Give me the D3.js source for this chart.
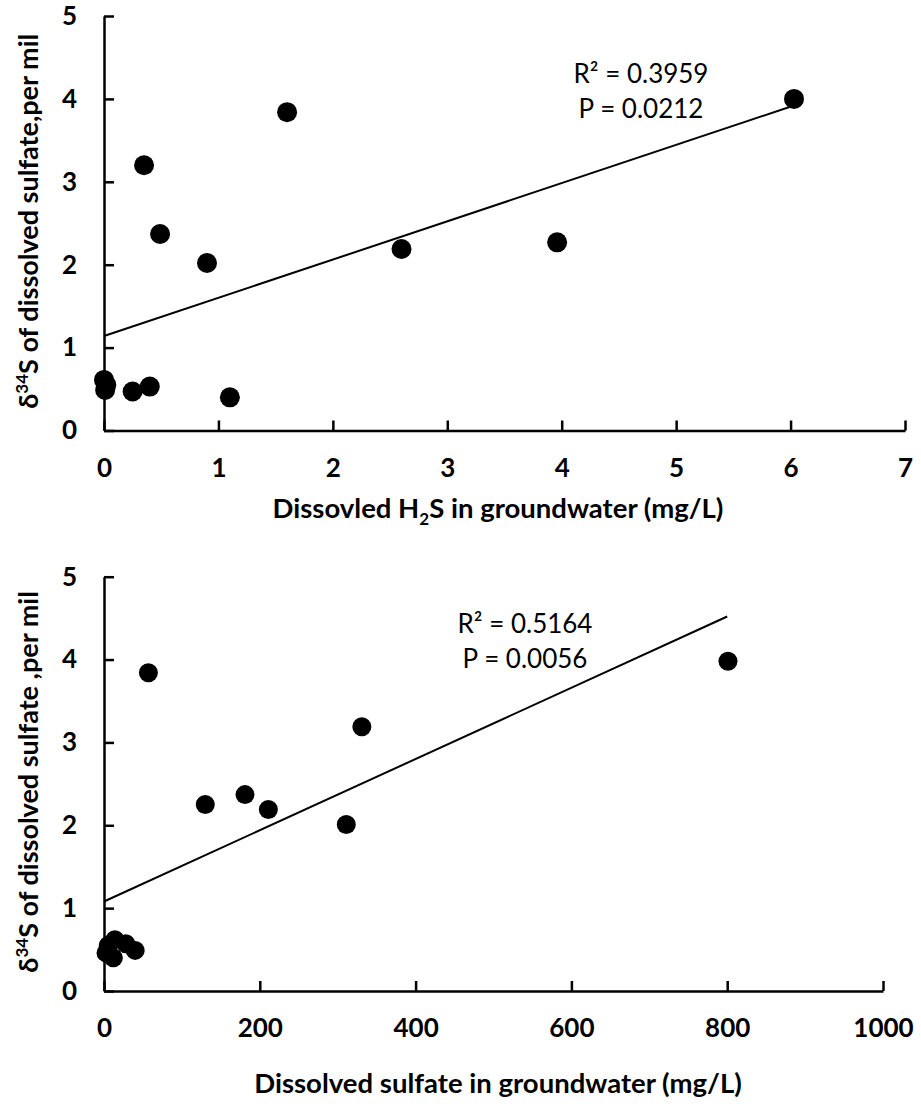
<!DOCTYPE html>
<html>
<head>
<meta charset="utf-8">
<script src="https://cdn.jsdelivr.net/npm/d3@7"></script>
<style>
  body { margin: 0; background: #fff; }
  text { font-family: Lato, "Open Sans", sans-serif; fill: #000; }
  .axis path, .axis line { stroke: #000; stroke-width: 2.5; }
  .axis text { font-size: 26px; font-weight: bold; }
</style>
</head>
<body>
<div id="main"></div>
<script>
// top panel: dissolved H2S vs d34S
var h2sX = [0, 0.02, 0.01, 0.25, 0.40, 1.10, 0.35, 1.60, 0.49, 0.90, 2.60, 3.96, 6.03];
var h2sY = [0.61, 0.55, 0.49, 0.47, 0.53, 0.40, 3.20, 3.84, 2.37, 2.02, 2.19, 2.27, 4.00];
var h2sFit = [[0, 1.14], [6.03, 3.92]];
var h2sTicks = [0, 1, 2, 3, 4, 5, 6, 7];
var h2sStats = ["R\u00B2 = 0.3959", "P = 0.0212"];

// bottom panel: dissolved sulfate vs d34S
var so4X = [57, 331, 130, 181, 211, 311, 801, 2.6, 14, 12, 28, 40, 5.5];
var so4Y = [3.84, 3.19, 2.25, 2.37, 2.19, 2.01, 3.98, 0.46, 0.62, 0.40, 0.57, 0.49, 0.55];
var so4Fit = [[0, 1.08], [800, 4.52]];
var so4Ticks = [0, 200, 400, 600, 800, 1000];
var so4Stats = ["R\u00B2 = 0.5164", "P = 0.0056"];

var yTicks = [0, 1, 2, 3, 4, 5];

var width = 921, height = 1104;

var svg = d3.select("#main").append("svg")
    .attr("width", width)
    .attr("height", height);

function panel(opt) {
  var x = d3.scaleLinear().domain([0, opt.xMax]).range([104, opt.right]);
  var y = d3.scaleLinear().domain([0, 5]).range([opt.bottom, opt.top]);
  var g = svg.append("g");

  g.append("g").attr("class", "axis")
      .attr("transform", "translate(0," + y(0) + ")")
      .call(d3.axisBottom(x).tickValues(opt.ticks).tickFormat(d3.format("d"))
        .tickSizeInner(-10).tickSizeOuter(0).tickPadding(28))
      .selectAll("text").attr("dy", "0.71em");

  g.append("g").attr("class", "axis")
      .attr("transform", "translate(" + x(0) + ",0)")
      .call(d3.axisLeft(y).tickValues(yTicks).tickFormat(d3.format("d"))
        .tickSizeInner(-10).tickSizeOuter(0).tickPadding(27));

  g.append("line")
      .attr("x1", x(opt.fit[0][0])).attr("y1", y(opt.fit[0][1]))
      .attr("x2", x(opt.fit[1][0])).attr("y2", y(opt.fit[1][1]))
      .attr("stroke", "#000").attr("stroke-width", 2);

  g.selectAll("circle").data(opt.xs)
    .enter().append("circle")
      .attr("cx", d => x(d))
      .attr("cy", (d, i) => y(opt.ys[i]))
      .attr("r", opt.r)
      .attr("fill", "#000");

  g.selectAll(".stat").data(opt.stats)
    .enter().append("text")
      .attr("class", "stat")
      .attr("x", opt.statX)
      .attr("y", (d, i) => opt.statY + i * 35)
      .attr("text-anchor", "middle")
      .style("font-size", "26px")
      .text(d => d);

  // y title
  var yt = g.append("text")
      .attr("transform", "translate(38," + ((opt.top + opt.bottom) / 2 - 2) + ") rotate(-90)")
      .attr("text-anchor", "middle")
      .style("font-size", "27px").style("font-weight", "bold");
  yt.append("tspan").text("\u03B4");
  yt.append("tspan").attr("dy", -10).style("font-size", "17px").text("34");
  yt.append("tspan").attr("dy", 10).text(opt.yTitle);

  // x title
  var xt = g.append("text")
      .attr("x", 498).attr("y", opt.xTitleY)
      .attr("text-anchor", "middle")
      .style("font-size", "27.5px").style("font-weight", "bold");
  opt.xTitle(xt);
}

panel({
  xMax: 7, right: 905, top: 16, bottom: 430.5,
  ticks: h2sTicks, xs: h2sX, ys: h2sY, fit: h2sFit, r: 10,
  stats: h2sStats, statX: 641, statY: 83,
  yTitle: "S of dissolved sulfate,per mil",
  xTitleY: 518,
  xTitle: function(t) {
    t.append("tspan").text("Dissovled H");
    t.append("tspan").attr("dy", 7).style("font-size", "17px").text("2");
    t.append("tspan").attr("dy", -7).text("S in groundwater (mg/L)");
  }
});

panel({
  xMax: 1000, right: 883, top: 576.7, bottom: 991,
  ticks: so4Ticks, xs: so4X, ys: so4Y, fit: so4Fit, r: 9.5,
  stats: so4Stats, statX: 525, statY: 633,
  yTitle: "S of dissolved sulfate ,per mil",
  xTitleY: 1093,
  xTitle: function(t) {
    t.text("Dissolved sulfate in groundwater (mg/L)");
  }
});
</script>
</body>
</html>
